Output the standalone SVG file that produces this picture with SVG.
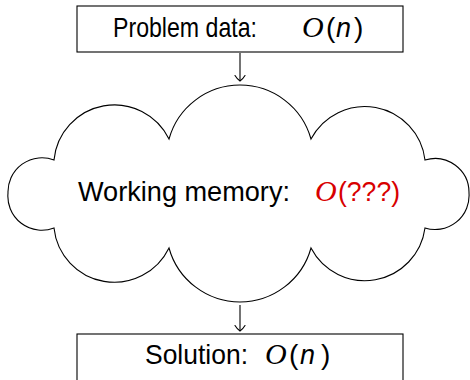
<svg xmlns="http://www.w3.org/2000/svg" width="470" height="380" viewBox="0 0 470 380">
<defs>
<style>
.box{fill:#fff;stroke:#000;stroke-width:1.1}
.cloud{fill:#fff;stroke:#000;stroke-width:1.1;stroke-linejoin:miter}
.t{font-family:"Liberation Sans",Arial,sans-serif;font-size:28px;fill:#000}
.cal{font-family:"Liberation Serif","DejaVu Serif",serif;font-style:italic;font-size:30px}
.it{font-style:italic}
.red{fill:#d80000}
.conn{fill:none;stroke:#000;stroke-width:1.1}
</style>
<marker id="to" viewBox="-6 -6 8 12" markerWidth="8" markerHeight="12" refX="0" refY="0" orient="auto" markerUnits="userSpaceOnUse">
<path d="M -5.5,-5 C -3,-3.5 -1,-1.5 0,0 C -1,1.5 -3,3.5 -5.5,5" fill="none" stroke="#000" stroke-width="1.1" stroke-linecap="round"/>
</marker>
</defs>
<g id="problem">
<rect class="box" x="77" y="6" width="326" height="46"/>
<text class="t" y="37"><tspan x="113" textLength="144" lengthAdjust="spacingAndGlyphs">Problem data:</tspan><tspan class="cal" x="302">O</tspan><tspan x="326">(</tspan><tspan class="it" x="336" textLength="15" lengthAdjust="spacingAndGlyphs">n</tspan><tspan x="354">)</tspan></text>
</g>
<g id="memory">
<path class="cloud" d="M 54,160 A 60.7 60.7 0 0 1 169,139 A 73.7 73.7 0 0 1 311,139 A 60.7 60.7 0 0 1 425,160 A 34 34 0 0 1 469,193 A 34 34 0 0 1 425,228 A 60.7 60.7 0 0 1 311,248 A 73.7 73.7 0 0 1 169,248 A 60.7 60.7 0 0 1 54,228 A 34 34 0 0 1 8,193 A 34 34 0 0 1 54,160 Z"/>
<text class="t" y="201"><tspan x="78" textLength="212" lengthAdjust="spacingAndGlyphs">Working memory:</tspan><tspan class="cal red" x="315">O</tspan><tspan class="red" x="338" textLength="62" lengthAdjust="spacingAndGlyphs">(???)</tspan></text>
</g>
<g id="solution">
<rect class="box" x="77" y="334" width="326" height="60"/>
<text class="t" y="364"><tspan x="145" textLength="103" lengthAdjust="spacingAndGlyphs">Solution:</tspan><tspan class="cal" x="265">O</tspan><tspan x="289">(</tspan><tspan class="it" x="300" textLength="15" lengthAdjust="spacingAndGlyphs">n</tspan><tspan x="321">)</tspan></text>
</g>
<g id="connectors">
<path class="conn" d="M 240,53 L 240,81" marker-end="url(#to)"/>
<path class="conn" d="M 240,305 L 240,331" marker-end="url(#to)"/>
</g>
</svg>
